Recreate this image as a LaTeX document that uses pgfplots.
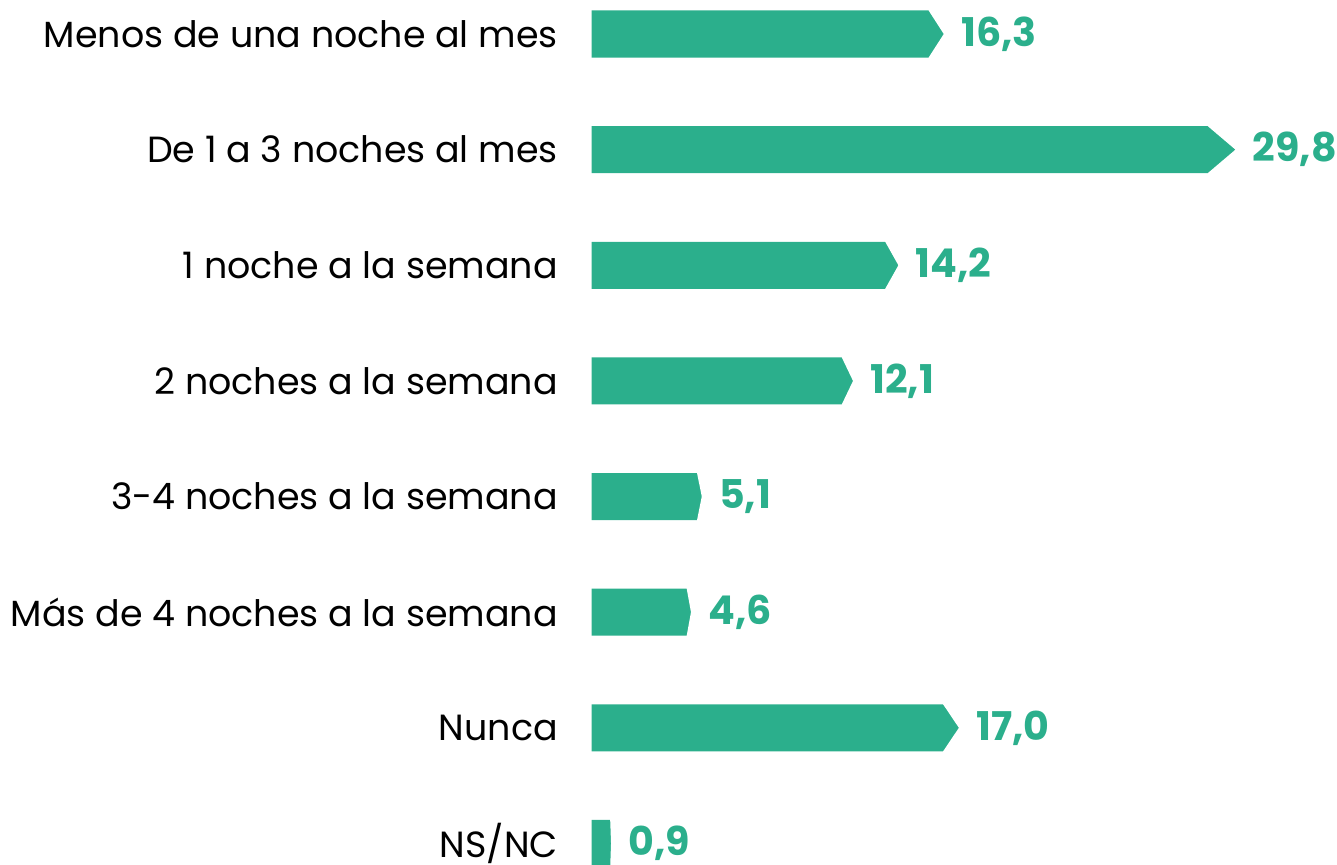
\documentclass[border=0pt]{standalone}
\usepackage{fontspec}
\setmainfont{Poppins}
\usepackage{pgfplots}
\pgfplotsset{compat=1.18}
\usepackage{pgfplotstable}
\definecolor{barc}{RGB}{43,175,140}
\pgfplotstableread{
y v
0 16.3
1 29.8
2 14.2
3 12.1
4 5.1
5 4.6
6 17.0
7 0.9
}\datatab
\pgfdeclareplotmark{cut}{%
  \pgfmathsetlengthmacro\dd{0.043*\xv*10.8pt}%
  \pgfpathmoveto{\pgfpoint{-\dd}{12.1pt}}%
  \pgfpathlineto{\pgfpoint{0.8pt}{12.1pt}}%
  \pgfpathlineto{\pgfpoint{0.8pt}{-12.1pt}}%
  \pgfpathlineto{\pgfpoint{-\dd}{-12.1pt}}%
  \pgfpathlineto{\pgfpoint{-\dd}{-11.75pt}}%
  \pgfpathlineto{\pgfpoint{0pt}{0pt}}%
  \pgfpathlineto{\pgfpoint{-\dd}{11.75pt}}%
  \pgfpathclose
  \pgfusepathqfill}
\begin{document}
\begin{tikzpicture}
\begin{axis}[
  x=10.8pt, y=57.8pt,
  xmin=-27.38, xmax=34.5,
  ymin=-0.294, ymax=7.18,
  y dir=reverse,
  axis line style={draw=none},
  major tick length=0pt,
  xtick=\empty,
  ytick={0,...,7},
  yticklabels={Menos de una noche al mes,De 1 a 3 noches al mes,1 noche a la semana,2 noches a la semana,3-4 noches a la semana,Más de 4 noches a la semana,Nunca,NS/NC},
  yticklabel style={anchor=east, inner sep=0pt, xshift=279pt, font=\fontsize{18.2}{21}\selectfont},
  /pgf/number format/.cd, use comma, fixed, fixed zerofill, precision=1, assume math mode=true,
]
\addplot[xbar, bar width=23.5pt, fill=barc, draw=none,
  nodes near coords,
  nodes near coords style={anchor=west, inner sep=0pt, xshift=8.5pt, text=barc, font=\fontsize{19.8}{23}\selectfont\bfseries}]
  table[x=v, y=y] {\datatab};
\addplot[only marks, mark=cut, mark options={draw=none, fill=white},
  visualization depends on={\thisrow{v}\as\xv}]
  table[x=v, y=y] {\datatab};
\coordinate (BL) at (rel axis cs:0,0);
\coordinate (TR) at (rel axis cs:1,1);
\end{axis}
\pgfresetboundingbox
\useasboundingbox (BL) rectangle (TR);
\end{tikzpicture}
\end{document}
